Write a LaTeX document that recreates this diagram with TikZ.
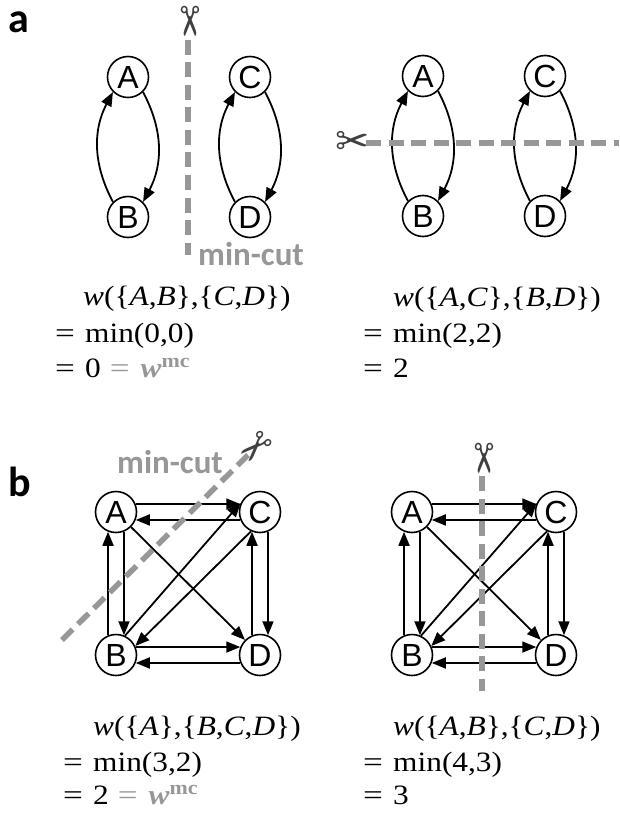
\documentclass[tikz,border=0pt]{standalone}
\usepackage{fontspec}
\setmainfont[FakeStretch=1.12]{Liberation Serif}
\newfontfamily\labelfont{Carlito}
\newfontfamily\vertexfont{Liberation Sans}
\newfontfamily\symbolfont{DejaVu Sans}
\definecolor{cut-gray}{HTML}{979797}
\usetikzlibrary{arrows.meta,positioning}
\newcommand{\vv}[1]{\textit{#1}}
\newcommand{\eqsign}{\makebox[30pt][l]{\scalebox{1.12}[1]{=}}}
\newcommand{\wmc}{{\color{cut-gray}\scalebox{1.12}[1]{=}\hspace{11pt}\textbf{\textit{w}}\textsuperscript{\textbf{mc}}}}

\begin{document}
\begin{tikzpicture}[x=1pt, y=-1pt, on grid,
  vtx/.style={circle, draw=black, fill=white, line width=1.6pt, minimum size=41pt,
              inner sep=0pt, font=\vertexfont\fontsize{32}{32}\selectfont},
  arr/.style={-{Triangle[length=14pt,width=11pt]}, line width=1.8pt},
  cut/.style={line width=5.5pt, cut-gray, dash pattern=on 15pt off 7.5pt},
  snip/.style={font=\symbolfont\fontsize{41}{41}\selectfont, inner sep=0pt, text=black!75},
  eqn/.style={anchor=base west, inner sep=0pt, font=\fontsize{28}{28}\selectfont},
  mincut/.style={anchor=base west, inner sep=0pt, text=cut-gray, font=\labelfont\bfseries\fontsize{33}{33}\selectfont},
  panel/.style={anchor=base west, inner sep=0pt, font=\labelfont\bfseries\fontsize{42}{42}\selectfont}]

  \useasboundingbox (0,0) rectangle (619,813);

  % panel a
  \node[panel] (lblA) at (8,33) {a};

  \node[vtx] (a1A) at (128,77) {A};
  \node[vtx, below=140pt of a1A] (a1B) {B};
  \node[vtx, right=122pt of a1A] (a1C) {C};
  \node[vtx, below=140pt of a1C] (a1D) {D};

  \node[vtx] (a2A) at (423,76) {A};
  \node[vtx, below=140pt of a2A] (a2B) {B};
  \node[vtx, right=122pt of a2A] (a2C) {C};
  \node[vtx, below=140pt of a2C] (a2D) {D};

  \foreach \g in {a1,a2} {
    \draw[arr] (\g B.135) to[out=118, in=-118] (\g A.-135);
    \draw[arr] (\g A.-45) to[out=-62, in=62] (\g B.45);
    \draw[arr] (\g D.135) to[out=118, in=-118] (\g C.-135);
    \draw[arr] (\g C.-45) to[out=-62, in=62] (\g D.45);
  }

  \node[snip, rotate=-90] (snipA1) at (188,22) {✂};
  \coordinate (cutA1s) at (188,40);
  \coordinate (cutA1e) at (188,255);
  \draw[cut] (cutA1s) -- (cutA1e);
  \node[mincut] (mcA) at (198,265) {min-cut};

  \node[snip] (snipA2) at (353,143) {✂};
  \coordinate (cutA2s) at (366,143);
  \coordinate (cutA2e) at (619,143);
  \draw[cut] (cutA2s) -- (cutA2e);

  \node[eqn] (eqA1a) at (83,305) {\vv{w}(\{\vv{A},\vv{B}\},\{\vv{C},\vv{D}\})};
  \node[eqn] (eqA1b) at (55,342) {\eqsign min(0,0)};
  \node[eqn] (eqA1c) at (55,377) {\eqsign 0\hspace{9pt}\wmc};

  \node[eqn] (eqA2a) at (393,306) {\vv{w}(\{\vv{A},\vv{C}\},\{\vv{B},\vv{D}\})};
  \node[eqn] (eqA2b) at (363,342) {\eqsign min(2,2)};
  \node[eqn] (eqA2c) at (363,377) {\eqsign 2};

  % panel b
  \node[panel] (lblB) at (8,496) {b};

  \node[vtx] (b1A) at (116,512) {A};
  \node[vtx, below=143pt of b1A] (b1B) {B};
  \node[vtx, right=144pt of b1A] (b1C) {C};
  \node[vtx, below=143pt of b1C] (b1D) {D};

  \node[vtx] (b2A) at (412,512) {A};
  \node[vtx, below=143pt of b2A] (b2B) {B};
  \node[vtx, right=144pt of b2A] (b2C) {C};
  \node[vtx, below=143pt of b2C] (b2D) {D};

  \foreach \g in {b1,b2} {
    \draw[arr] (\g A.22) -- (\g C.158);
    \draw[arr] (\g C.202) -- (\g A.-22);
    \draw[arr] (\g B.112) -- (\g A.248);
    \draw[arr] (\g A.292) -- (\g B.68);
    \draw[arr] (\g D.112) -- (\g C.248);
    \draw[arr] (\g C.292) -- (\g D.68);
    \draw[arr] (\g B.22) -- (\g D.158);
    \draw[arr] (\g D.202) -- (\g B.-22);
    \draw[arr] (\g B.65) -- (\g C.155);
    \draw[arr] (\g C.245) -- (\g B.25);
    \draw[arr] (\g A.-45) -- (\g D.135);
  }

  \node[snip, rotate=225] (snipB1) at (254,445) {✂};
  \coordinate (cutB1s) at (62,640);
  \coordinate (cutB1e) at (248,455);
  \draw[cut] (cutB1s) -- (cutB1e);
  \node[mincut] (mcB) at (117,473) {min-cut};

  \node[snip, rotate=-90] (snipB2) at (482,459) {✂};
  \coordinate (cutB2s) at (482,476);
  \coordinate (cutB2e) at (482,691);
  \draw[cut] (cutB2s) -- (cutB2e);

  \node[eqn] (eqB1a) at (93,735) {\vv{w}(\{\vv{A}\},\{\vv{B},\vv{C},\vv{D}\})};
  \node[eqn] (eqB1b) at (63,771) {\eqsign min(3,2)};
  \node[eqn] (eqB1c) at (63,804) {\eqsign 2\hspace{9pt}\wmc};

  \node[eqn] (eqB2a) at (393,735) {\vv{w}(\{\vv{A},\vv{B}\},\{\vv{C},\vv{D}\})};
  \node[eqn] (eqB2b) at (363,771) {\eqsign min(4,3)};
  \node[eqn] (eqB2c) at (363,804) {\eqsign 3};

\end{tikzpicture}
\end{document}
